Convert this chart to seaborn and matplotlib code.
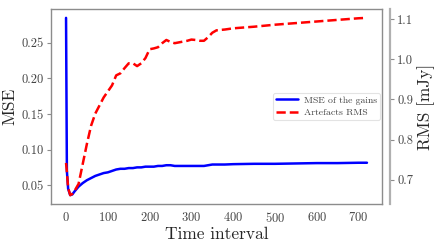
import matplotlib
matplotlib.use("Agg")
import matplotlib.pyplot as plt
import seaborn as sns
import pandas as pd

time = [0, 2, 5, 10, 15, 20, 30, 40, 50, 60, 70, 80, 90, 100, 110, 120, 130, 140,
        150, 160, 170, 180, 190, 200, 210, 220, 230, 240, 250, 260, 270, 280, 290,
        300, 310, 320, 330, 340, 350, 360, 380, 400, 450, 500, 550, 600, 650, 700, 720]
mse = [0.285, 0.07, 0.045, 0.036, 0.037, 0.041, 0.048, 0.053, 0.057, 0.060, 0.063,
       0.065, 0.067, 0.068, 0.070, 0.072, 0.073, 0.073, 0.074, 0.074, 0.075, 0.075,
       0.076, 0.076, 0.076, 0.077, 0.077, 0.078, 0.078, 0.077, 0.077, 0.077, 0.077,
       0.077, 0.077, 0.077, 0.077, 0.078, 0.079, 0.079, 0.079, 0.0795, 0.080, 0.080,
       0.0805, 0.081, 0.081, 0.0815, 0.0815]
rms = [0.742, 0.72, 0.68, 0.662, 0.665, 0.672, 0.69, 0.74, 0.79, 0.835, 0.865, 0.885,
       0.905, 0.92, 0.935, 0.96, 0.965, 0.978, 0.99, 0.99, 0.983, 0.99, 1.003, 1.025,
       1.027, 1.03, 1.04, 1.048, 1.043, 1.040, 1.042, 1.044, 1.046, 1.049, 1.048,
       1.046, 1.046, 1.055, 1.066, 1.072, 1.074, 1.077, 1.081, 1.086, 1.090, 1.094,
       1.098, 1.102, 1.103]

labels = ["MSE of the gains", "Artefacts RMS"]
xlabel = "Time interval"
ylabel_left = "MSE"
ylabel_right = "RMS [mJy]"

df = pd.DataFrame({"time": time, "mse": mse, "rms": rms})

sns.set_style("white")
plt.rcParams["font.family"] = ["cmr10", "DejaVu Serif"]
plt.rcParams["mathtext.fontset"] = "cm"
plt.rcParams["axes.formatter.use_mathtext"] = True

grey = "#8c8c8c"
tickc = "#444444"

fig = plt.figure(figsize=(4.36, 2.45), dpi=100)
ax = fig.add_axes([51/436, 1 - 204/245, (382 - 51)/436, (204 - 9)/245])
ax2 = ax.twinx()

sns.lineplot(data=df, x="time", y="mse", ax=ax, color="#0000ff", lw=1.8, label=labels[0], legend=False)
sns.lineplot(data=df, x="time", y="rms", ax=ax2, color="#ff0000", lw=1.8, ls="--", label=labels[1], legend=False)

ax.set_xticks([0, 100, 200, 300, 400, 500, 600, 700])
ax.set_yticks([0.05, 0.10, 0.15, 0.20, 0.25])
ax.set_yticklabels(["0.05", "0.10", "0.15", "0.20", "0.25"])
ax2.set_yticks([0.7, 0.8, 0.9, 1.0, 1.1])
ax2.set_yticklabels(["0.7", "0.8", "0.9", "1.0", "1.1"])

ax.set_xlabel(xlabel, fontsize=12.5, labelpad=1)
ax.set_ylabel(ylabel_left, fontsize=12.5, labelpad=3)
ax2.set_ylabel(ylabel_right, fontsize=12.5, labelpad=3)

for a in (ax, ax2):
    a.tick_params(axis="both", labelsize=9, length=3, width=0.8, pad=2,
                  colors=grey, labelcolor=tickc)
    for s in a.spines.values():
        s.set_color(grey)
        s.set_linewidth(1.0)
ax2.spines["right"].set_position(("outward", 6))
ax2.spines["right"].set_linewidth(1.6)
ax2.spines["right"].set_color("#b0b0b0")
ax2.spines["left"].set_visible(False)
ax2.spines["top"].set_visible(False)
ax2.spines["bottom"].set_visible(False)

h1, l1 = ax.get_legend_handles_labels()
h2, l2 = ax2.get_legend_handles_labels()
leg = ax2.legend(h1 + h2, l1 + l2, loc="center right", fontsize=7, frameon=True,
                 borderaxespad=0.2, handlelength=2.2, handletextpad=0.6,
                 borderpad=0.35, labelspacing=0.35, labelcolor=tickc)
leg.get_frame().set_edgecolor("#dddddd")
leg.get_frame().set_linewidth(0.8)

fig.savefig("out.png", dpi=100)
